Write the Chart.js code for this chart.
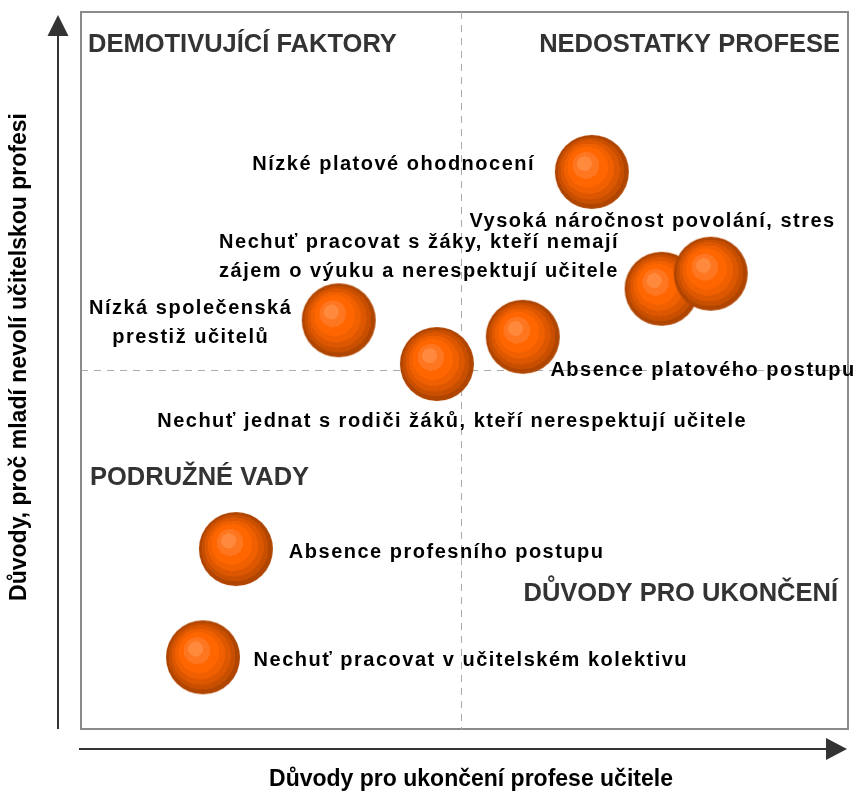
<!DOCTYPE html>
<html>
<head>
<meta charset="utf-8">
<script src="https://cdn.jsdelivr.net/npm/chart.js@4.4.1/dist/chart.umd.min.js"></script>
<style>
html,body{margin:0;padding:0;background:#fff;}
#wrap{width:862px;height:794px;position:relative;}
</style>
</head>
<body>
<div id="wrap"><canvas id="c" width="862" height="794"></canvas></div>
<script>
// ---- data ----
const categories = [
  "Nízké platové ohodnocení",
  "Nechuť pracovat s žáky, kteří nemají zájem o výuku a nerespektují učitele",
  "Vysoká náročnost povolání, stres",
  "Nízká společenská prestiž učitelů",
  "Nechuť jednat s rodiči žáků, kteří nerespektují učitele",
  "Absence platového postupu",
  "Absence profesního postupu",
  "Nechuť pracovat v učitelském kolektivu"
];
const xValues = [6.66, 7.57, 8.21, 3.36, 4.64, 5.76, 2.02, 1.59];
const yValues = [7.77, 6.14, 6.35, 5.70, 5.09, 5.47, 2.51, 1.00];
const quadrantNames = ["DEMOTIVUJÍCÍ FAKTORY", "NEDOSTATKY PROFESE", "PODRUŽNÉ VADY", "DŮVODY PRO UKONČENÍ"];
const xAxisTitle = "Důvody pro ukončení profese učitele";
const yAxisTitle = "Důvody, proč mladí nevolí učitelskou profesi";
const dividerX = 4.95;
const dividerY = 5.01;

// ---- label layout (data-space anchors) ----
const labelLayout = [
  {lines:["Nízké platové ohodnocení"], x:5.92, y:7.87, align:"right"},
  {lines:["Nechuť pracovat s žáky, kteří nemají","zájem o výuku a nerespektují učitele"], x:1.80, y:6.79, align:"left"},
  {lines:["Vysoká náročnost povolání, stres"], x:9.84, y:7.08, align:"right"},
  {lines:["Nízká společenská","prestiž učitelů"], x:1.43, y:5.87, align:"center"},
  {lines:["Nechuť jednat s rodiči žáků, kteří nerespektují učitele"], x:4.84, y:4.29, align:"center"},
  {lines:["Absence platového postupu"], x:6.12, y:5.00, align:"left"},
  {lines:["Absence profesního postupu"], x:2.71, y:2.46, align:"left"},
  {lines:["Nechuť pracovat v učitelském kolektivu"], x:2.25, y:0.96, align:"left"}
];

const R = 37;
function makeBall(r){
  const s = 2*r+2;
  const cv = document.createElement('canvas');
  cv.width = s; cv.height = s;
  const g = cv.getContext('2d');
  const c = s/2;
  const grad = g.createRadialGradient(c-0.25*r, c-0.28*r, 0, c, c, r);
  const stops = [
    [0.00,'#FF8A3E'],[0.20,'#FF8A3E'],
    [0.20,'#FF7620'],[0.36,'#FF7620'],
    [0.36,'#FF6600'],[0.55,'#FF6600'],
    [0.55,'#F06000'],[0.68,'#F06000'],
    [0.68,'#DD5700'],[0.80,'#DD5700'],
    [0.80,'#C94F00'],[0.90,'#C94F00'],
    [0.90,'#B04500'],[1.00,'#B04500']
  ];
  stops.forEach(st=>grad.addColorStop(st[0], st[1]));
  g.fillStyle = grad;
  g.beginPath(); g.arc(c, c, r, 0, Math.PI*2); g.fill();
  return cv;
}
const ball = makeBall(R);

const FONT = '"Liberation Sans", Arial, sans-serif';

const decor = {
  id:'decor',
  beforeDatasetsDraw(chart){
    const {ctx, chartArea:a, scales:{x,y}} = chart;
    ctx.save();
    // frame
    ctx.strokeStyle = '#8a8a8a'; ctx.lineWidth = 2;
    ctx.strokeRect(a.left, a.top, a.right-a.left, a.bottom-a.top);
    // dividers
    ctx.strokeStyle = '#aaaaaa'; ctx.lineWidth = 1; ctx.setLineDash([7,6]);
    const dx = Math.round(x.getPixelForValue(dividerX))+0.5;
    const dy = Math.round(y.getPixelForValue(dividerY))+0.5;
    ctx.beginPath(); ctx.moveTo(dx, a.top); ctx.lineTo(dx, a.bottom); ctx.stroke();
    ctx.beginPath(); ctx.moveTo(a.left, dy); ctx.lineTo(a.right, dy); ctx.stroke();
    ctx.setLineDash([]);
    // axis arrows
    ctx.strokeStyle = '#333'; ctx.fillStyle = '#333'; ctx.lineWidth = 2;
    const ax = a.left - 23, ay = a.bottom + 20;
    ctx.beginPath(); ctx.moveTo(ax, a.bottom); ctx.lineTo(ax, a.top+20); ctx.stroke();
    ctx.beginPath(); ctx.moveTo(ax, a.top+3); ctx.lineTo(ax-10.5, a.top+24); ctx.lineTo(ax+10.5, a.top+24); ctx.closePath(); ctx.fill();
    ctx.beginPath(); ctx.moveTo(a.left-2, ay); ctx.lineTo(a.right-20, ay); ctx.stroke();
    ctx.beginPath(); ctx.moveTo(a.right-1, ay); ctx.lineTo(a.right-22, ay-11); ctx.lineTo(a.right-22, ay+11); ctx.closePath(); ctx.fill();
    // quadrant names
    ctx.fillStyle = '#333'; ctx.font = 'bold 25.5px '+FONT; ctx.textBaseline = 'middle';
    ctx.textAlign = 'left';
    ctx.fillText(quadrantNames[0], a.left+7, a.top+33);
    ctx.textAlign = 'right';
    ctx.fillText(quadrantNames[1], a.right-8, a.top+33);
    ctx.textAlign = 'left';
    ctx.fillText(quadrantNames[2], a.left+9, y.getPixelForValue(dividerY)+108);
    ctx.textAlign = 'right';
    ctx.fillText(quadrantNames[3], a.right-10, y.getPixelForValue(dividerY)+224);
    // axis titles
    ctx.fillStyle = '#000'; ctx.font = 'bold 23px '+FONT; ctx.textAlign = 'center';
    ctx.fillText(xAxisTitle, 471, 780);
    ctx.save(); ctx.translate(20, 357); ctx.rotate(-Math.PI/2);
    ctx.fillText(yAxisTitle, 0, 0); ctx.restore();
    ctx.restore();
  },
  afterDatasetsDraw(chart){
    const {ctx, scales:{x,y}} = chart;
    ctx.save();
    ctx.fillStyle = '#000'; ctx.font = 'bold 20px '+FONT; ctx.textBaseline = 'middle';
    ctx.letterSpacing = '1.5px';
    labelLayout.forEach(l=>{
      ctx.textAlign = l.align;
      const px = x.getPixelForValue(l.x), py = y.getPixelForValue(l.y);
      l.lines.forEach((t,i)=>ctx.fillText(t, px, py + i*29));
    });
    ctx.restore();
  }
};

new Chart(document.getElementById('c'), {
  type:'bubble',
  data:{
    labels: categories,
    datasets:[{
      data: xValues.map((v,i)=>({x:v, y:yValues[i], r:R})),
      pointStyle: ball,
      backgroundColor:'#FF6600',
      borderWidth:0
    }]
  },
  options:{
    responsive:false, animation:false,
    layout:{autoPadding:false, padding:{left:81, top:12, right:14, bottom:65}},
    plugins:{legend:{display:false}, tooltip:{enabled:false}},
    scales:{
      x:{min:0, max:10, display:false},
      y:{min:0, max:10, display:false}
    }
  },
  plugins:[decor]
});
</script>
</body>
</html>
